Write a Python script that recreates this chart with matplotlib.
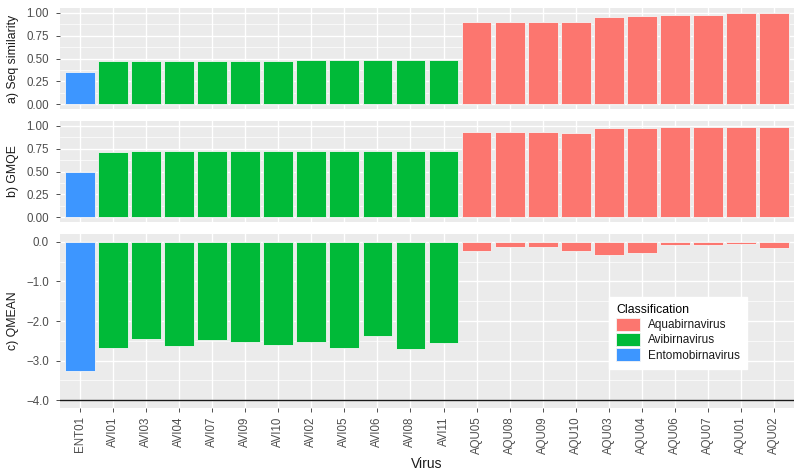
import numpy as np
import matplotlib
matplotlib.use("Agg")
import matplotlib.pyplot as plt
from matplotlib.patches import Patch

plt.rcParams['font.family'] = ['Liberation Sans', 'DejaVu Sans']

viruses = ['ENT01', 'AVI01', 'AVI03', 'AVI04', 'AVI07', 'AVI09', 'AVI10', 'AVI02',
           'AVI05', 'AVI06', 'AVI08', 'AVI11', 'AQU05', 'AQU08', 'AQU09', 'AQU10',
           'AQU03', 'AQU04', 'AQU06', 'AQU07', 'AQU01', 'AQU02']
classes = ['Entomobirnavirus'] + ['Avibirnavirus'] * 11 + ['Aquabirnavirus'] * 10

seq_sim = [0.35, 0.47, 0.47, 0.47, 0.47, 0.47, 0.47, 0.48, 0.48, 0.48, 0.48, 0.48,
           0.90, 0.90, 0.90, 0.90, 0.95, 0.96, 0.97, 0.97, 0.995, 0.995]
gmqe = [0.50, 0.71, 0.72, 0.72, 0.72, 0.72, 0.72, 0.72, 0.72, 0.72, 0.72, 0.72,
        0.93, 0.93, 0.93, 0.92, 0.97, 0.97, 0.98, 0.98, 0.99, 0.99]
qmean = [-3.27, -2.69, -2.46, -2.63, -2.48, -2.53, -2.61, -2.54, -2.68, -2.37, -2.71, -2.55,
         -0.24, -0.13, -0.13, -0.24, -0.32, -0.28, -0.07, -0.07, -0.05, -0.15]

class_names = ['Aquabirnavirus', 'Avibirnavirus', 'Entomobirnavirus']
class_colors = {'Aquabirnavirus': '#FC766F', 'Avibirnavirus': '#00BA38',
                'Entomobirnavirus': '#3D96FF'}

W, H = 799, 472
fig = plt.figure(figsize=(W / 100, H / 100), dpi=100)

def box(x0, y0, x1, y1):
    return [x0 / W, 1 - y1 / H, (x1 - x0) / W, (y1 - y0) / H]

ax1 = fig.add_axes(box(60, 8, 794, 109))
ax2 = fig.add_axes(box(60, 121, 794, 222))
ax3 = fig.add_axes(box(60, 234, 794, 408))

x = np.arange(len(viruses))
colors = [class_colors[c] for c in classes]

def style(ax, ymin, ymax, major, minor, fmt, label):
    ax.set_facecolor('#EBEBEB')
    for s in ax.spines.values():
        s.set_visible(False)
    ax.set_xlim(-0.6, len(viruses) - 0.4)
    ax.set_ylim(ymin, ymax)
    ax.set_yticks(major)
    ax.set_yticklabels([fmt % v for v in major])
    ax.set_yticks(minor, minor=True)
    ax.set_xticks(x)
    ax.grid(True, which='major', color='white', linewidth=1.0)
    ax.grid(True, which='minor', axis='y', color='white', linewidth=0.5)
    ax.set_axisbelow(True)
    ax.tick_params(axis='both', which='major', length=3, width=0.6, color='#333333',
                   labelsize=8.3, labelcolor='#4D4D4D', pad=5)
    ax.tick_params(axis='y', which='minor', length=0)
    ax.set_ylabel(label, fontsize=8.8, color='#1A1A1A', labelpad=5)

for ax, vals, label in [(ax1, seq_sim, 'a) Seq similarity'), (ax2, gmqe, 'b) GMQE')]:
    ax.bar(x, vals, width=0.9, color=colors, edgecolor='#F5F5F5', linewidth=0.6)
    style(ax, -0.05, 1.05, [0, 0.25, 0.5, 0.75, 1.0],
          [0.125, 0.375, 0.625, 0.875], '%.2f', label)
    ax.tick_params(axis='x', labelbottom=False, length=0)

ax3.bar(x, qmean, width=0.9, color=colors, edgecolor='#F5F5F5', linewidth=0.6)
ax3.axhline(-4, color='#1A1A1A', linewidth=1.0)
style(ax3, -4.2, 0.2, [0, -1, -2, -3, -4], [-0.5, -1.5, -2.5, -3.5], '%.1f', 'c) QMEAN')
ax3.set_yticklabels(['0.0', '\u22121.0', '\u22122.0', '\u22123.0', '\u22124.0'])
ax3.set_xticklabels(viruses, rotation=90)
ax3.tick_params(axis='x', pad=3)
ax3.set_xlabel('Virus', fontsize=10, color='#1A1A1A', labelpad=2)

fig.align_ylabels([ax1, ax2, ax3])

handles = [Patch(facecolor=class_colors[c], edgecolor='#F5F5F5', linewidth=0.6)
           for c in class_names]
leg = ax3.legend(handles, class_names, title='Classification', loc='upper left',
                 bbox_to_anchor=(609 / W, 1 - 297 / H), bbox_transform=fig.transFigure,
                 frameon=True, fancybox=False, framealpha=1, facecolor='white',
                 edgecolor='white', fontsize=8.5, title_fontsize=8.8,
                 handlelength=2.0, handleheight=1.3, handletextpad=0.7,
                 labelspacing=0.15, borderpad=0.6, borderaxespad=0, alignment='left')
for t in leg.get_texts():
    t.set_color('#1A1A1A')

fig.savefig('out.png', dpi=100)
